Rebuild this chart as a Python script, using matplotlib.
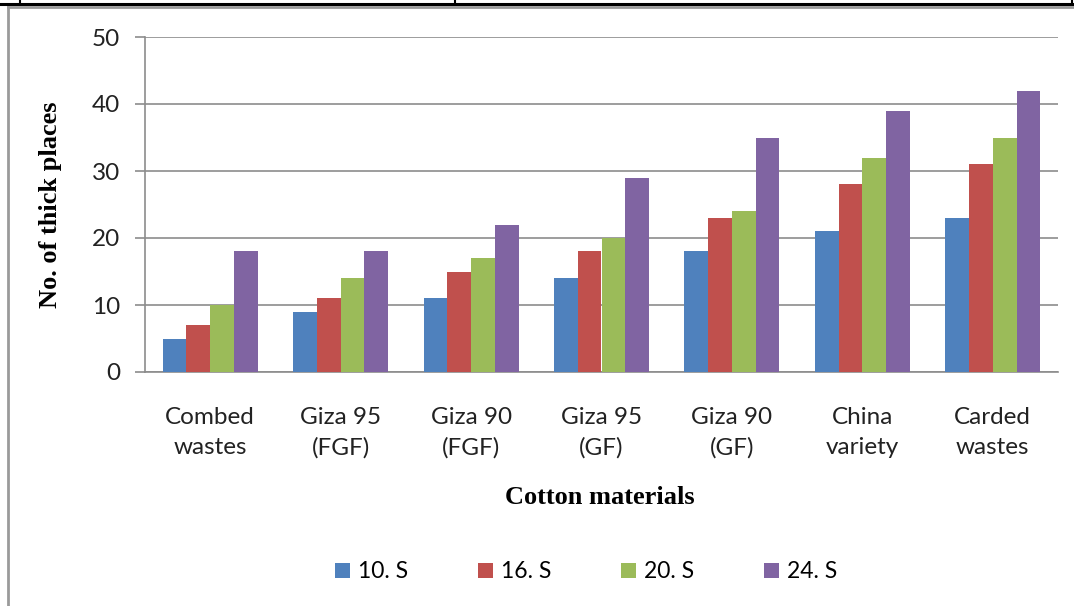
import matplotlib
matplotlib.use("Agg")
import matplotlib.pyplot as plt
import numpy as np
from matplotlib.lines import Line2D

categories = ["Combed\nwastes", "Giza 95\n(FGF)", "Giza 90\n(FGF)", "Giza 95\n(GF)",
              "Giza 90\n(GF)", "China\nvariety", "Carded\nwastes"]
series_names = ["10. S", "16. S", "20. S", "24. S"]
s10 = [5, 9, 11, 14, 18, 21, 23]
s16 = [7, 11, 15, 18, 23, 28, 31]
s20 = [10, 14, 17, 20, 24, 32, 35]
s24 = [18, 18, 22, 29, 35, 39, 42]
colors = ["#4F81BD", "#C0504D", "#9BBB59", "#8064A2"]
y_ticks = [0, 10, 20, 30, 40, 50]

W, H = 1074, 606
fig = plt.figure(figsize=(W / 100, H / 100), dpi=100)
ax = fig.add_axes([145 / W, 1 - 372 / H, (1058 - 145) / W, (372 - 37) / H])

x = np.arange(len(categories))
bw = 0.182
for i, (vals, name, c) in enumerate(zip([s10, s16, s20, s24], series_names, colors)):
    ax.bar(x + (i - 1.5) * bw, vals, bw, color=c, label=name, zorder=3)

ax.set_xlim(-0.5, len(categories) - 0.5)
ax.set_ylim(0, 50)
ax.set_yticks(y_ticks)
ax.yaxis.grid(True, color="#8c8c8c", linewidth=1.2, zorder=0)
ax.set_axisbelow(True)
for s in ["top", "right"]:
    ax.spines[s].set_visible(False)
ax.spines["left"].set_color("#8c8c8c")
ax.spines["bottom"].set_color("#8c8c8c")
ax.spines["left"].set_linewidth(1.2)
ax.spines["bottom"].set_linewidth(1.2)
ax.tick_params(axis="y", direction="out", length=7, color="#8c8c8c", width=1.2,
               labelsize=17.5, pad=11)
ax.tick_params(axis="x", length=0, labelsize=17.5, pad=25)
ax.set_xticks(x)
ax.set_xticklabels(categories, family="Lato", color="#222222", linespacing=1.55)
for lab in ax.get_yticklabels():
    lab.set_family("Lato")
    lab.set_color("#222222")

ax.set_ylabel("No. of thick places", family="Liberation Serif", fontweight="bold",
              fontsize=19, labelpad=14)
ax.yaxis.set_label_coords(62 / W, 1 - 205 / H, transform=fig.transFigure)
fig.text(600 / W, 1 - 497 / H, "Cotton materials", family="Liberation Serif",
         fontweight="bold", fontsize=19, ha="center", va="center")

leg = fig.legend(loc="center", bbox_to_anchor=(586 / W, 1 - 572 / H), ncol=4,
                 frameon=False, prop={"family": "Lato", "size": 16.5},
                 handlelength=0.65, handleheight=0.65, handletextpad=0.35,
                 columnspacing=3.05)

# frame lines around the chart (document artefacts)
fig.add_artist(Line2D([0, 1], [1 - 3.5 / H] * 2, color="black", linewidth=2.2))
fig.add_artist(Line2D([20 / W] * 2, [1 - 3.5 / H, 1], color="black", linewidth=1.5))
fig.add_artist(Line2D([455 / W] * 2, [1 - 3.5 / H, 1], color="black", linewidth=1.5))
fig.add_artist(Line2D([1072 / W] * 2, [1 - 3.5 / H, 1], color="black", linewidth=1.5))
fig.add_artist(Line2D([8 / W, 1], [1 - 6.5 / H] * 2, color="#9a9a9a", linewidth=2))
fig.add_artist(Line2D([8 / W] * 2, [0, 1 - 6.5 / H], color="#9a9a9a", linewidth=2))

fig.savefig("out.png", dpi=100)
